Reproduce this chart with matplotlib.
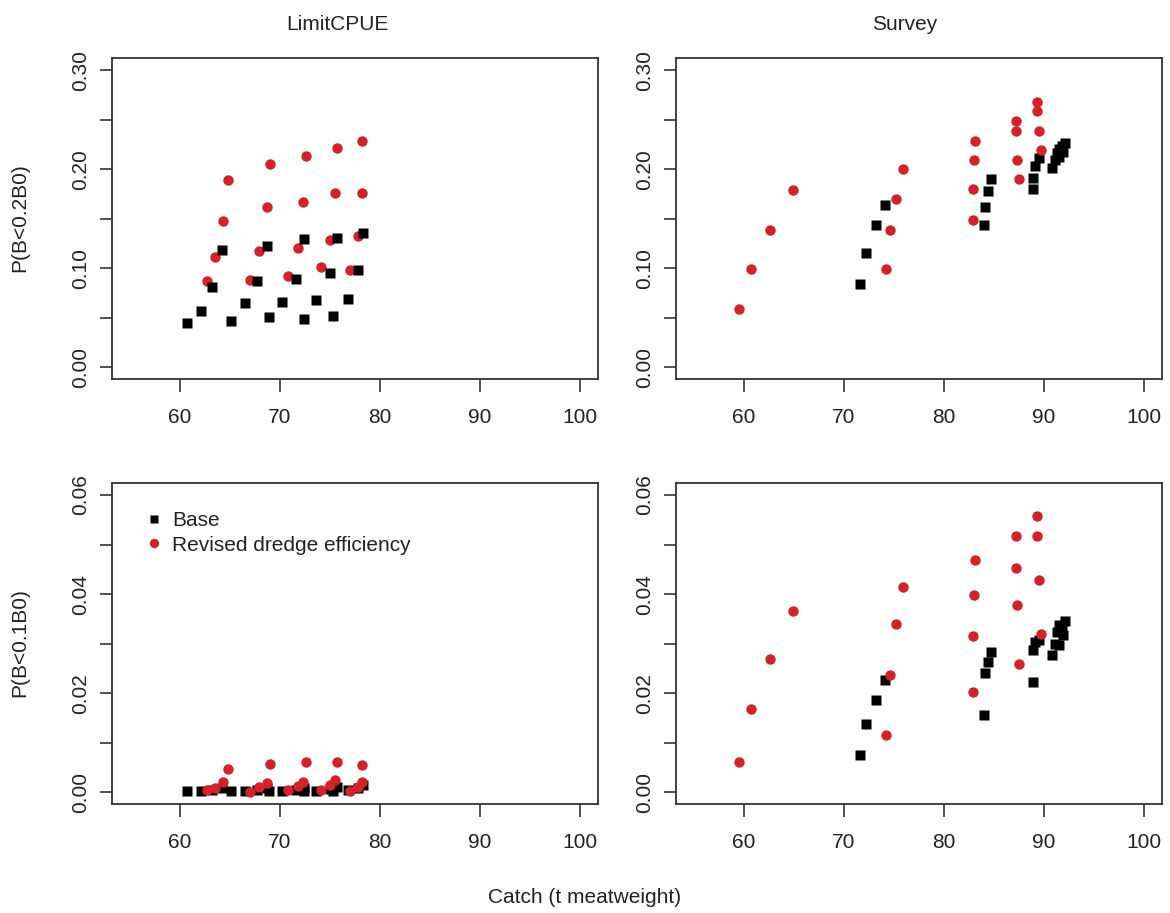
import matplotlib
matplotlib.use("Agg")
import matplotlib.pyplot as plt

plt.rcParams['font.family'] = ['Liberation Sans', 'DejaVu Sans']

# Catch levels and risk probabilities, LimitCPUE rule
lim_base_x = [60.7, 62.1, 63.2, 64.2, 65.1, 66.5, 67.7, 68.7, 68.9, 70.2,
              71.6, 72.4, 72.4, 73.6, 75.0, 75.7, 75.3, 76.8, 77.8, 78.3]
lim_base_p20 = [0.045, 0.057, 0.081, 0.118, 0.047, 0.065, 0.087, 0.122, 0.051, 0.066,
                0.089, 0.129, 0.049, 0.068, 0.095, 0.130, 0.052, 0.069, 0.098, 0.135]
lim_base_p10 = [0.0002, 0.0003, 0.0005, 0.0008, 0.0002, 0.0003, 0.0005, 0.0008, 0.0002, 0.0003,
                0.0005, 0.0009, 0.0002, 0.0003, 0.0006, 0.0010, 0.0003, 0.0004, 0.0008, 0.0015]

lim_rev_x = [62.7, 63.5, 64.3, 64.8, 67.0, 67.9, 68.7, 69.0, 70.8, 71.8,
             72.3, 72.6, 74.1, 75.0, 75.5, 75.7, 77.0, 77.8, 78.2, 78.2]
lim_rev_p20 = [0.087, 0.111, 0.148, 0.189, 0.088, 0.117, 0.162, 0.205, 0.092, 0.120,
               0.167, 0.213, 0.101, 0.128, 0.176, 0.221, 0.098, 0.132, 0.176, 0.228]
lim_rev_p10 = [0.0004, 0.0008, 0.0021, 0.0048, 0.0001, 0.0011, 0.0018, 0.0058, 0.0005, 0.0012,
               0.0021, 0.0061, 0.0005, 0.0014, 0.0024, 0.0061, 0.0003, 0.0011, 0.0021, 0.0055]

# Survey rule
srv_base_x = [71.6, 72.2, 73.2, 74.1, 84.0, 84.1, 84.4, 84.7, 88.9, 88.9,
              89.1, 89.5, 90.8, 91.1, 91.3, 91.5, 91.8, 92.1, 91.5, 91.9]
srv_base_p20 = [0.084, 0.115, 0.144, 0.164, 0.144, 0.162, 0.178, 0.190, 0.180, 0.191,
                0.203, 0.211, 0.201, 0.209, 0.216, 0.220, 0.223, 0.226, 0.212, 0.217]
srv_base_p10 = [0.0076, 0.0138, 0.0187, 0.0226, 0.0156, 0.0241, 0.0263, 0.0283, 0.0223, 0.0287,
                0.0304, 0.0308, 0.0278, 0.0300, 0.0324, 0.0337, 0.0331, 0.0346, 0.0297, 0.0317]

srv_rev_x = [59.5, 60.7, 62.6, 64.9, 74.2, 74.6, 75.2, 75.9, 82.9, 82.9,
             83.0, 83.1, 87.5, 87.3, 87.2, 87.2, 89.7, 89.5, 89.3, 89.3]
srv_rev_p20 = [0.059, 0.099, 0.139, 0.179, 0.099, 0.139, 0.170, 0.200, 0.149, 0.180,
               0.209, 0.229, 0.190, 0.209, 0.239, 0.249, 0.219, 0.239, 0.259, 0.268]
srv_rev_p10 = [0.0062, 0.0169, 0.0269, 0.0365, 0.0115, 0.0236, 0.0339, 0.0415, 0.0203, 0.0316,
               0.0398, 0.0468, 0.0259, 0.0378, 0.0452, 0.0517, 0.0319, 0.0428, 0.0517, 0.0557]

x_ticks = [60, 70, 80, 90, 100]
top_ticks = [0.00, 0.05, 0.10, 0.15, 0.20, 0.25, 0.30]
top_labels = ['0.00', '', '0.10', '', '0.20', '', '0.30']
bot_ticks = [0.00, 0.01, 0.02, 0.03, 0.04, 0.05, 0.06]
bot_labels = ['0.00', '', '0.02', '', '0.04', '', '0.06']

RED = '#D2232A'
TXT = '#222222'
FS = 15

W, H = 1170, 913
fig = plt.figure(figsize=(W / 100, H / 100), dpi=100)


def px_axes(left, top, right, bottom):
    return fig.add_axes([left / W, 1 - bottom / H, (right - left) / W, (bottom - top) / H])


def style(ax, yticks, ylabels, ymax):
    # R-style 4% padding around the data ranges
    ax.set_xlim(55 - 0.04 * 45, 100 + 0.04 * 45)
    ax.set_ylim(-0.04 * ymax, ymax * 1.04)
    ax.set_xticks(x_ticks)
    ax.set_xticklabels([str(t) for t in x_ticks])
    ax.set_yticks(yticks)
    ax.set_yticklabels(ylabels, rotation=90, va='center')
    ax.tick_params(axis='both', length=9, width=1.2, colors='#333333',
                   labelcolor=TXT, labelsize=FS)
    ax.tick_params(axis='x', pad=12)
    ax.tick_params(axis='y', pad=7)
    for sp in ax.spines.values():
        sp.set_linewidth(1.3)
        sp.set_color('#333333')


ax_tl = px_axes(112, 58.4, 598, 378.9)
ax_tr = px_axes(676, 58.4, 1162, 378.9)
ax_bl = px_axes(112, 483.1, 598, 804.2)
ax_br = px_axes(676, 483.1, 1162, 804.2)

panels = [
    (ax_tl, lim_base_x, lim_base_p20, lim_rev_x, lim_rev_p20, True),
    (ax_tr, srv_base_x, srv_base_p20, srv_rev_x, srv_rev_p20, False),
    (ax_bl, lim_base_x, lim_base_p10, lim_rev_x, lim_rev_p10, False),
    (ax_br, srv_base_x, srv_base_p10, srv_rev_x, srv_rev_p10, False),
]
for ax, bx, by, rx, ry, base_on_top in panels:
    zb, zr = (4, 3) if base_on_top else (3, 4)
    ax.plot(bx, by, linestyle='none', marker='s', ms=7, color='black',
            mec='none', label='Base', zorder=zb)
    ax.plot(rx, ry, linestyle='none', marker='o', ms=7.5, color=RED,
            mec='none', label='Revised dredge efficiency', zorder=zr)

style(ax_tl, top_ticks, top_labels, 0.30)
style(ax_tr, top_ticks, top_labels, 0.30)
style(ax_bl, bot_ticks, bot_labels, 0.06)
style(ax_br, bot_ticks, bot_labels, 0.06)

ax_bl.legend(loc='upper left', bbox_to_anchor=(0.03, 0.97), frameon=False,
             fontsize=FS, handlelength=0.8, handletextpad=0.5,
             labelspacing=0.25, markerscale=0.9, labelcolor=TXT)

fig.text(337 / W, 1 - 24 / H, 'LimitCPUE', ha='center', va='center', fontsize=FS, color=TXT)
fig.text(905 / W, 1 - 24 / H, 'Survey', ha='center', va='center', fontsize=FS, color=TXT)
fig.text(20 / W, 1 - 218 / H, 'P(B<0.2B0)', ha='center', va='center', rotation=90,
         fontsize=FS, color=TXT)
fig.text(20 / W, 1 - 643 / H, 'P(B<0.1B0)', ha='center', va='center', rotation=90,
         fontsize=FS, color=TXT)
fig.text(585 / W, 1 - 897 / H, 'Catch (t meatweight)', ha='center', va='center',
         fontsize=FS, color=TXT)

fig.savefig('out.png', dpi=100)
